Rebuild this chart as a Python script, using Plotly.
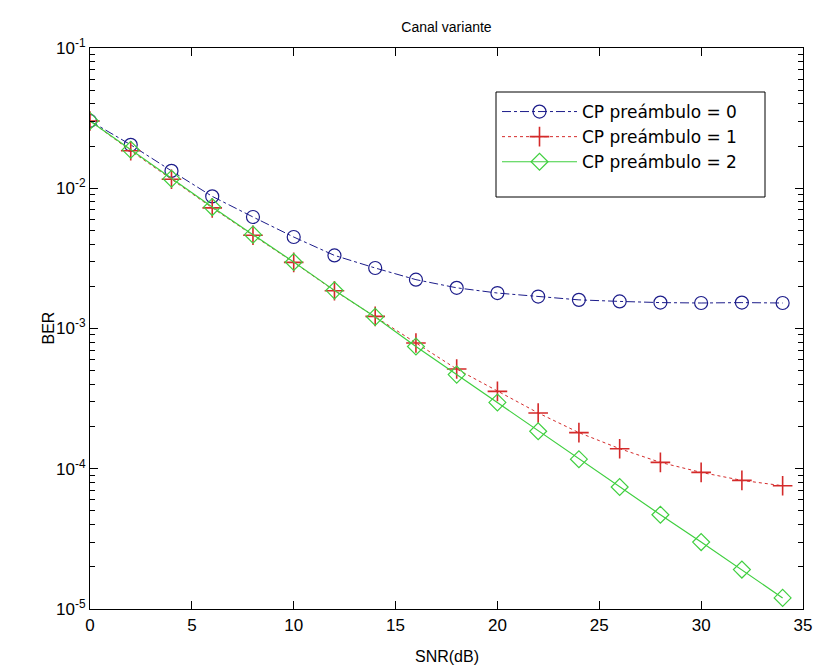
import plotly.graph_objects as go

snr = [0, 2, 4, 6, 8, 10, 12, 14, 16, 18, 20, 22, 24, 26, 28, 30, 32, 34]
ber_cp0 = [0.0302, 0.0204, 0.0133, 0.00875, 0.00624, 0.00449, 0.00332, 0.00270,
           0.00223, 0.00195, 0.00179, 0.00169, 0.00160, 0.00156, 0.00153, 0.00152,
           0.00153, 0.00152]
ber_cp1 = [0.0302, 0.0185, 0.0116, 0.00725, 0.00462, 0.00296, 0.00186, 0.00122,
           0.000789, 0.000514, 0.000356, 0.000250, 0.000181, 0.000139, 0.000111,
           0.0000942, 0.0000826, 0.0000757]
ber_cp2 = [0.0302, 0.0188, 0.0117, 0.00734, 0.00467, 0.00298, 0.00187, 0.00121,
           0.000744, 0.000469, 0.000297, 0.000185, 0.000117, 0.0000741, 0.0000470,
           0.0000300, 0.0000191, 0.0000120]
labels = ["CP preámbulo = 0", "CP preámbulo = 1", "CP preámbulo = 2"]
yticks = [1e-5, 1e-4, 1e-3, 1e-2, 1e-1]
ytext = ["10<sup>-5</sup>", "10<sup>-4</sup>", "10<sup>-3</sup>", "10<sup>-2</sup>", "10<sup>-1</sup>"]
yminor = [m * 10.0 ** e for e in range(-5, -1) for m in range(2, 10)]
xticks = [0, 5, 10, 15, 20, 25, 30, 35]

FONT = "Liberation Sans, Arial, sans-serif"
LFONT = "DejaVu Sans, sans-serif"
blue = "#1c1c8a"
red = "#d42a2a"
green = "#3fcf3f"

W, H = 815, 667
L, R, T, B = 90, 12, 48, 58
PW, PH = W - L - R, H - T - B


def px(x):
    return (x - L) / PW


def py(y):
    return 1 - (y - T) / PH


fig = go.Figure()
fig.add_trace(go.Scatter(x=snr, y=ber_cp0, name=labels[0], mode="lines+markers",
                         line=dict(color=blue, dash="dashdot", width=1),
                         marker=dict(symbol="circle-open", size=13, color=blue, line=dict(width=1.2))))
fig.add_trace(go.Scatter(x=snr, y=ber_cp1, name=labels[1], mode="lines+markers",
                         line=dict(color=red, dash="dot", width=1),
                         marker=dict(symbol="cross-thin-open", size=14, color=red, line=dict(width=1.6, color=red))))
fig.add_trace(go.Scatter(x=snr, y=ber_cp2, name=labels[2], mode="lines+markers",
                         line=dict(color=green, width=1.2),
                         marker=dict(symbol="diamond-open", size=13, color=green, line=dict(width=1.2))))

axis_common = dict(showline=True, linecolor="black", linewidth=1.2, mirror="ticks",
                   ticks="inside", tickcolor="black", ticklen=8, showgrid=False, zeroline=False,
                   automargin=False,
                   tickfont=dict(family=FONT, size=17, color="black"))

fig.update_xaxes(range=[0, 35], tickvals=xticks, **axis_common)
fig.update_yaxes(type="log", range=[-5, -1], tickvals=yticks, ticktext=ytext,
                 minor=dict(tickmode="array", tickvals=yminor, ticks="inside", ticklen=5,
                            tickcolor="black", showgrid=False),
                 **axis_common)

fig.update_layout(
    width=W, height=H,
    margin=dict(l=L, r=R, t=T, b=B),
    paper_bgcolor="white", plot_bgcolor="white",
    font=dict(family=FONT, color="black"),
    title=dict(text="Canal variante", x=0.5, xref="paper", y=1 - 27 / H, yref="container",
               xanchor="center", yanchor="middle", font=dict(family=FONT, size=14, color="black")),
    legend=dict(x=px(497), y=py(94), xanchor="left", yanchor="top",
                borderwidth=0, bgcolor="rgba(255,255,255,0)",
                font=dict(family=LFONT, size=17, color="black"), itemwidth=75,
                tracegroupgap=0),
    shapes=[dict(type="rect", xref="paper", yref="paper", x0=px(496), x1=px(765),
                 y0=py(197), y1=py(92), line=dict(color="black", width=1),
                 fillcolor="white", layer="above")],
    annotations=[
        dict(text="SNR(dB)", xref="paper", yref="paper", x=0.5, y=py(656),
             xanchor="center", yanchor="middle", showarrow=False,
             font=dict(family=FONT, size=16, color="black")),
        dict(text="BER", xref="paper", yref="paper", x=px(48), y=0.5,
             xanchor="center", yanchor="middle", textangle=-90, showarrow=False,
             font=dict(family=FONT, size=16, color="black")),
    ],
)

fig.write_html("out.html", config={"displayModeBar": False},
               post_script="document.body.style.margin='0px';document.body.style.padding='0px';")
